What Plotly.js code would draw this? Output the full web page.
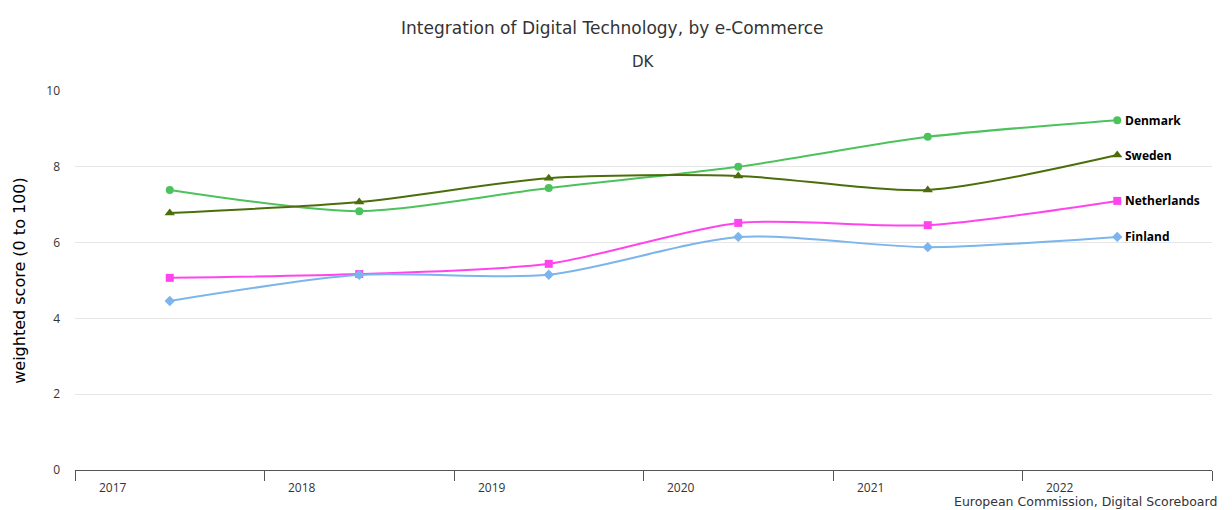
<!DOCTYPE html>
<html>
<head>
<meta charset="utf-8">
<script src="https://cdn.plot.ly/plotly-3.0.1.min.js"></script>
<style>html,body{margin:0;padding:0;background:#fff;}#chart{width:1232px;height:510px;}</style>
</head>
<body>
<div id="chart"></div>
<script>
const years = ["2017", "2018", "2019", "2020", "2021", "2022"];
const denmark = [7.39, 6.83, 7.44, 8.0, 8.79, 9.23];
const sweden = [6.78, 7.07, 7.70, 7.76, 7.39, 8.31];
const netherlands = [5.07, 5.17, 5.44, 6.52, 6.46, 7.10];
const finland = [4.46, 5.15, 5.15, 6.15, 5.88, 6.15];
const seriesNames = ["Denmark", "Sweden", "Netherlands", "Finland"];
const seriesValues = [denmark, sweden, netherlands, finland];
const seriesColors = ["#4cc25c", "#4b6e0b", "#ff44ee", "#7cb5ec"];
const seriesSymbols = ["circle", "triangle-up", "square", "diamond"];
const seriesSizes = [8, 9, 8, 8];

const FONT = "Open Sans, DejaVu Sans, sans-serif";
const FONT2 = "DejaVu Sans, sans-serif";
const idx = years.map((_, i) => i);

const traces = seriesNames.map((name, s) => ({
  x: idx,
  y: seriesValues[s],
  name: name,
  type: "scatter",
  mode: "lines+markers",
  line: {color: seriesColors[s], width: 2, shape: "spline", smoothing: 0.75},
  marker: {color: seriesColors[s], symbol: seriesSymbols[s], size: seriesSizes[s]},
  hoverinfo: "x+y+name"
}));

const annotations = [];
years.forEach((y, i) => {
  annotations.push({
    x: i - 0.3, y: 0, xref: "x", yref: "y", text: y, showarrow: false,
    yshift: -17, font: {family: FONT, size: 12, color: "#333333"}
  });
});
seriesNames.forEach((name, s) => {
  const v = seriesValues[s];
  annotations.push({
    x: idx[idx.length - 1], y: v[v.length - 1], xref: "x", yref: "y",
    text: "<b>" + name + "</b>", showarrow: false, xanchor: "left", xshift: 6,
    font: {family: FONT, size: 12, color: "#000000"}
  });
});
annotations.push({
  x: 1, y: 0, xref: "paper", yref: "paper", xanchor: "right", yanchor: "middle",
  text: "European Commission, Digital Scoreboard", showarrow: false, yshift: -31, xshift: 7,
  font: {family: FONT2, size: 12.5, color: "#333333"}
});
annotations.push({
  x: 0.5, y: 1, xref: "paper", yref: "paper", xanchor: "center", yanchor: "middle",
  text: "DK", showarrow: false, yshift: 29,
  font: {family: FONT2, size: 15, color: "#333333"}
});

const tickPos = [];
for (let i = 0; i <= years.length; i++) tickPos.push(i - 0.5);

const layout = {
  width: 1232, height: 510,
  margin: {l: 75, r: 20, t: 91, b: 40},
  paper_bgcolor: "#ffffff", plot_bgcolor: "#ffffff",
  showlegend: false,
  title: {text: "Integration of Digital Technology, by e-Commerce", x: 0.497, xanchor: "center", y: 0.945, yanchor: "middle",
    font: {family: FONT2, size: 17, color: "#333333"}},
  xaxis: {
    range: [-0.5, years.length - 0.5], tickmode: "array", tickvals: tickPos,
    ticktext: tickPos.map(() => ""), ticks: "outside", ticklen: 10, tickcolor: "#555555", tickwidth: 1,
    showline: true, linecolor: "#555555", linewidth: 1, showgrid: false, zeroline: false, fixedrange: true
  },
  yaxis: {
    range: [0, 10], tickvals: [0, 2, 4, 6, 8, 10], showgrid: true, gridcolor: "#e6e6e6", gridwidth: 1,
    zeroline: false, showline: false, ticks: "", ticklabelstandoff: 14,
    tickfont: {family: FONT, size: 12, color: "#333333"},
    title: {text: "weighted score (0 to 100)", standoff: 16, font: {family: FONT2, size: 16, color: "#000000"}}
  },
  annotations: annotations,
  hovermode: "closest"
};

Plotly.newPlot("chart", traces, layout, {displayModeBar: false, responsive: false});
</script>
</body>
</html>
